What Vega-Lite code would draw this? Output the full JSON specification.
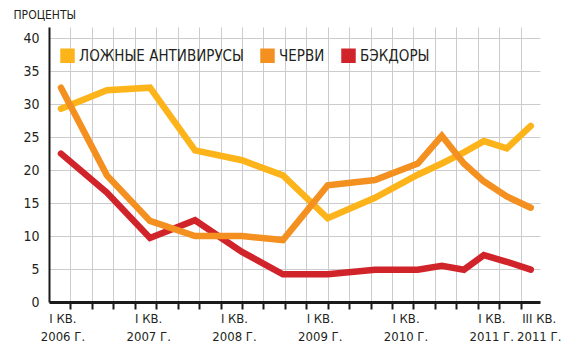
{
  "$schema": "https://vega.github.io/schema/vega-lite/v6.json",
  "width": 491,
  "height": 275,
  "autosize": {"type": "none"},
  "padding": {"left": 49, "top": 27, "right": 32, "bottom": 55},
  "background": "white",
  "config": {
    "view": {"stroke": null},
    "font": "DejaVu Sans Condensed"
  },
  "data": {
    "values": [
      {"q": 0.56, "series": "ЛОЖНЫЕ АНТИВИРУСЫ", "v": 29.3},
      {"q": 2.70, "series": "ЛОЖНЫЕ АНТИВИРУСЫ", "v": 32.1},
      {"q": 4.71, "series": "ЛОЖНЫЕ АНТИВИРУСЫ", "v": 32.5},
      {"q": 6.81, "series": "ЛОЖНЫЕ АНТИВИРУСЫ", "v": 23.0},
      {"q": 9.00, "series": "ЛОЖНЫЕ АНТИВИРУСЫ", "v": 21.5},
      {"q": 10.91, "series": "ЛОЖНЫЕ АНТИВИРУСЫ", "v": 19.2},
      {"q": 13.00, "series": "ЛОЖНЫЕ АНТИВИРУСЫ", "v": 12.7},
      {"q": 15.20, "series": "ЛОЖНЫЕ АНТИВИРУСЫ", "v": 15.8},
      {"q": 17.20, "series": "ЛОЖНЫЕ АНТИВИРУСЫ", "v": 19.3},
      {"q": 18.32, "series": "ЛОЖНЫЕ АНТИВИРУСЫ", "v": 21.0},
      {"q": 19.35, "series": "ЛОЖНЫЕ АНТИВИРУСЫ", "v": 22.7},
      {"q": 20.28, "series": "ЛОЖНЫЕ АНТИВИРУСЫ", "v": 24.4},
      {"q": 21.35, "series": "ЛОЖНЫЕ АНТИВИРУСЫ", "v": 23.3},
      {"q": 22.47, "series": "ЛОЖНЫЕ АНТИВИРУСЫ", "v": 26.7},
      {"q": 0.56, "series": "БЭКДОРЫ", "v": 22.5},
      {"q": 2.70, "series": "БЭКДОРЫ", "v": 16.6},
      {"q": 4.71, "series": "БЭКДОРЫ", "v": 9.7},
      {"q": 6.81, "series": "БЭКДОРЫ", "v": 12.4},
      {"q": 9.00, "series": "БЭКДОРЫ", "v": 7.6},
      {"q": 10.91, "series": "БЭКДОРЫ", "v": 4.2},
      {"q": 13.00, "series": "БЭКДОРЫ", "v": 4.2},
      {"q": 15.20, "series": "БЭКДОРЫ", "v": 4.9},
      {"q": 17.20, "series": "БЭКДОРЫ", "v": 4.9},
      {"q": 18.32, "series": "БЭКДОРЫ", "v": 5.5},
      {"q": 19.35, "series": "БЭКДОРЫ", "v": 4.9},
      {"q": 20.28, "series": "БЭКДОРЫ", "v": 7.1},
      {"q": 21.35, "series": "БЭКДОРЫ", "v": 6.1},
      {"q": 22.47, "series": "БЭКДОРЫ", "v": 4.9},
      {"q": 0.56, "series": "ЧЕРВИ", "v": 32.5},
      {"q": 2.70, "series": "ЧЕРВИ", "v": 19.2},
      {"q": 4.71, "series": "ЧЕРВИ", "v": 12.3},
      {"q": 6.81, "series": "ЧЕРВИ", "v": 10.0},
      {"q": 9.00, "series": "ЧЕРВИ", "v": 10.0},
      {"q": 10.91, "series": "ЧЕРВИ", "v": 9.4},
      {"q": 13.00, "series": "ЧЕРВИ", "v": 17.7},
      {"q": 15.20, "series": "ЧЕРВИ", "v": 18.5},
      {"q": 17.20, "series": "ЧЕРВИ", "v": 21.0},
      {"q": 18.32, "series": "ЧЕРВИ", "v": 25.2},
      {"q": 19.35, "series": "ЧЕРВИ", "v": 21.0},
      {"q": 20.28, "series": "ЧЕРВИ", "v": 18.3},
      {"q": 21.35, "series": "ЧЕРВИ", "v": 16.0},
      {"q": 22.47, "series": "ЧЕРВИ", "v": 14.3}
    ]
  },
  "mark": {"type": "line", "strokeWidth": 6.5, "strokeCap": "round", "strokeJoin": "miter"},
  "encoding": {
    "x": {
      "field": "q",
      "type": "quantitative",
      "scale": {"domain": [0, 22.9], "nice": false, "zero": false},
      "axis": {
        "title": null,
        "values": [1, 2, 3, 4, 5, 6, 7, 8, 9, 10, 11, 12, 13, 14, 15, 16, 17, 18, 19, 20, 21, 22],
        "grid": true,
        "gridColor": "#cccccc",
        "gridWidth": 1,
        "domainColor": "#1a1a1a",
        "domainWidth": 3,
        "tickColor": "#1a1a1a",
        "tickWidth": 2,
        "tickSize": 7,
        "labelFontSize": 13,
        "labelColor": "#231f20",
        "labelPadding": 3,
        "labelLineHeight": 18,
        "labelOverlap": false,
        "labelFlush": false,
        "labelBound": false,
        "labelOffset": {"condition": {"test": "datum.value == 22", "value": 18}, "value": -8},
        "labelExpr": "datum.value == 22 ? ['III КВ.', '2011 Г.'] : datum.value == 1 ? ['I КВ.', '2006 Г.'] : datum.value == 5 ? ['I КВ.', '2007 Г.'] : datum.value == 9 ? ['I КВ.', '2008 Г.'] : datum.value == 13 ? ['I КВ.', '2009 Г.'] : datum.value == 17 ? ['I КВ.', '2010 Г.'] : datum.value == 21 ? ['I КВ.', '2011 Г.'] : ''"
      }
    },
    "y": {
      "field": "v",
      "type": "quantitative",
      "scale": {"domain": [0, 41.7], "nice": false},
      "axis": {
        "values": [0, 5, 10, 15, 20, 25, 30, 35, 40],
        "grid": true,
        "gridColor": "#cccccc",
        "gridWidth": 1,
        "ticks": false,
        "domainColor": "#1a1a1a",
        "domainWidth": 2,
        "labelFontSize": 14,
        "labelColor": "#231f20",
        "labelPadding": 10,
        "title": "ПРОЦЕНТЫ",
        "titleAngle": 0,
        "titleAlign": "left",
        "titleBaseline": "middle",
        "titleX": -36,
        "titleY": -13,
        "titleFontSize": 12,
        "titleFontWeight": "normal",
        "titleColor": "#231f20"
      }
    },
    "color": {
      "field": "series",
      "type": "nominal",
      "scale": {
        "domain": ["ЛОЖНЫЕ АНТИВИРУСЫ", "ЧЕРВИ", "БЭКДОРЫ"],
        "range": ["#fdb41a", "#f39020", "#d1232a"]
      },
      "legend": {
        "title": null,
        "orient": "none",
        "legendX": 11,
        "legendY": 21,
        "direction": "horizontal",
        "columns": 3,
        "columnPadding": 16,
        "padding": 0,
        "symbolType": "square",
        "symbolSize": 210,
        "symbolStrokeWidth": 0,
        "symbolOpacity": 1,
        "labelFontSize": 15,
        "labelColor": "#231f20",
        "labelOffset": 4,
        "labelLimit": 300,
        "encode": {
          "symbols": {
            "update": {
              "fill": {"scale": "color", "field": "value"},
              "strokeWidth": {"value": 0}
            }
          }
        }
      }
    }
  }
}
